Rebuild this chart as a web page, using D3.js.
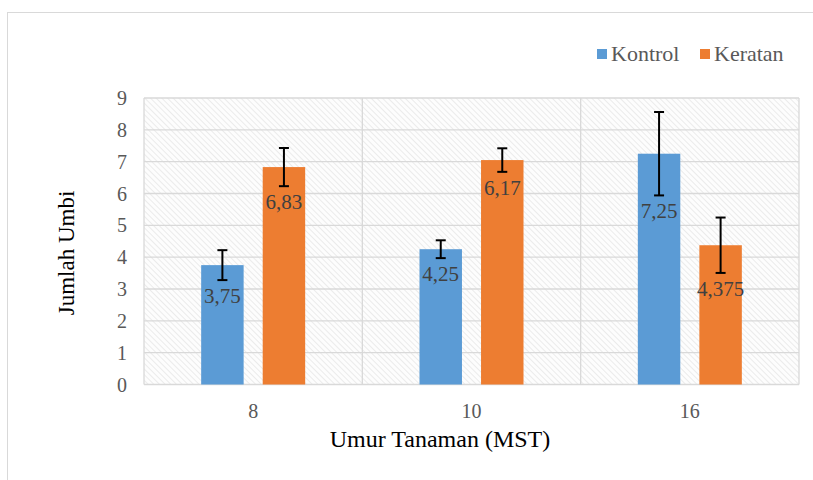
<!DOCTYPE html>
<html>
<head>
<meta charset="utf-8">
<script src="https://cdn.jsdelivr.net/npm/d3@7"></script>
<style>
  body { margin: 0; background: #fff; }
</style>
</head>
<body>
<script>
// data
var categories = ["8", "10", "16"];
var seriesNames = ["Kontrol", "Keratan"];
var kontrol = [3.75, 4.25, 7.25];
var keratan = [6.83, 7.05, 4.375];
var kontrolErr = [0.47, 0.28, 1.31];
var keratanErr = [0.6, 0.37, 0.87];
var kontrolLabels = ["3,75", "4,25", "7,25"];
var keratanLabels = ["6,83", "6,17", "4,375"];
var yTicks = [0, 1, 2, 3, 4, 5, 6, 7, 8, 9];

var colors = ["#5b9bd5", "#ed7d31"];

var svgWidth = 813;
var svgHeight = 480;

var margin = { top: 98, right: 14, bottom: 95.5, left: 144 };
var width = svgWidth - margin.left - margin.right;
var height = svgHeight - margin.top - margin.bottom;

var svg = d3.select("body")
    .append("svg")
    .attr("width", svgWidth)
    .attr("height", svgHeight)
    .attr("font-family", "'Liberation Serif', 'Times New Roman', serif");

// hatch pattern for the plot area
var defs = svg.append("defs");
var pattern = defs.append("pattern")
    .attr("id", "hatch")
    .attr("patternUnits", "userSpaceOnUse")
    .attr("width", 4)
    .attr("height", 4)
    .attr("patternTransform", "rotate(-45)");
pattern.append("rect")
    .attr("width", 4).attr("height", 4)
    .attr("fill", "#fdfdfd");
pattern.append("line")
    .attr("x1", 0).attr("y1", 0)
    .attr("x2", 0).attr("y2", 4)
    .attr("stroke", "#e6e6e6")
    .attr("stroke-width", 1.5);

// outer chart frame
svg.append("rect")
    .attr("x", 7.5)
    .attr("y", 12.5)
    .attr("width", 900)
    .attr("height", 600)
    .attr("fill", "none")
    .attr("stroke", "#d9d9d9")
    .attr("stroke-width", 1);

var chartGroup = svg.append("g")
    .attr("transform", `translate(${margin.left}, ${margin.top})`);

var x0 = d3.scaleBand()
    .domain(categories)
    .range([0, width]);

var groupWidth = 104;
var x1 = d3.scaleBand()
    .domain(seriesNames)
    .range([0, groupWidth])
    .paddingInner(0.31);

var y = d3.scaleLinear()
    .domain([0, 9])
    .range([height, 0]);

chartGroup.append("rect")
    .attr("width", width)
    .attr("height", height)
    .attr("fill", "url(#hatch)");

// horizontal gridlines
chartGroup.selectAll(".hgrid")
    .data(yTicks)
    .enter()
    .append("line")
    .attr("x1", 0)
    .attr("x2", width)
    .attr("y1", d => y(d))
    .attr("y2", d => y(d))
    .attr("stroke", "#d9d9d9")
    .attr("stroke-width", 1.3);

// vertical category separators
chartGroup.selectAll(".vgrid")
    .data(d3.range(categories.length + 1))
    .enter()
    .append("line")
    .attr("x1", d => d * x0.step())
    .attr("x2", d => d * x0.step())
    .attr("y1", 0)
    .attr("y2", height)
    .attr("stroke", "#d9d9d9")
    .attr("stroke-width", 1.3);

var rows = categories.map(function(c, i) {
    return [
        { cat: c, s: "Kontrol", v: kontrol[i], e: kontrolErr[i], label: kontrolLabels[i], color: colors[0] },
        { cat: c, s: "Keratan", v: keratan[i], e: keratanErr[i], label: keratanLabels[i], color: colors[1] }
    ];
});
var flat = [].concat.apply([], rows);

function barX(d) {
    return x0(d.cat) + (x0.bandwidth() - groupWidth) / 2 + x1(d.s);
}

chartGroup.selectAll(".bar")
    .data(flat)
    .enter()
    .append("rect")
    .attr("x", d => barX(d))
    .attr("y", d => y(d.v))
    .attr("width", x1.bandwidth())
    .attr("height", d => height - y(d.v))
    .attr("fill", d => d.color);

// error bars
var err = chartGroup.selectAll(".err")
    .data(flat)
    .enter()
    .append("g")
    .attr("stroke", "#000")
    .attr("stroke-width", 2);

err.append("line")
    .attr("x1", d => barX(d) + x1.bandwidth() / 2)
    .attr("x2", d => barX(d) + x1.bandwidth() / 2)
    .attr("y1", d => y(d.v + d.e))
    .attr("y2", d => y(d.v - d.e));
err.append("line")
    .attr("x1", d => barX(d) + x1.bandwidth() / 2 - 5)
    .attr("x2", d => barX(d) + x1.bandwidth() / 2 + 5)
    .attr("y1", d => y(d.v + d.e))
    .attr("y2", d => y(d.v + d.e));
err.append("line")
    .attr("x1", d => barX(d) + x1.bandwidth() / 2 - 5)
    .attr("x2", d => barX(d) + x1.bandwidth() / 2 + 5)
    .attr("y1", d => y(d.v - d.e))
    .attr("y2", d => y(d.v - d.e));

// data labels, just below the lower whisker
chartGroup.selectAll(".dlabel")
    .data(flat)
    .enter()
    .append("text")
    .text(d => d.label)
    .attr("x", d => barX(d) + x1.bandwidth() / 2)
    .attr("y", d => y(d.v - d.e) + 23)
    .attr("text-anchor", "middle")
    .attr("font-size", "21px")
    .attr("fill", "#404040");

// y axis tick labels
chartGroup.selectAll(".ytick")
    .data(yTicks)
    .enter()
    .append("text")
    .text(d => d)
    .attr("x", -17)
    .attr("y", d => y(d) + 7)
    .attr("text-anchor", "end")
    .attr("font-size", "20px")
    .attr("fill", "#595959");

// x axis tick labels
chartGroup.selectAll(".xtick")
    .data(categories)
    .enter()
    .append("text")
    .text(d => d)
    .attr("x", d => x0(d) + x0.bandwidth() / 2)
    .attr("y", height + 33)
    .attr("text-anchor", "middle")
    .attr("font-size", "20px")
    .attr("fill", "#595959");

// axis titles
svg.append("text")
    .text("Umur Tanaman (MST)")
    .attr("x", 440)
    .attr("y", 447)
    .attr("text-anchor", "middle")
    .attr("font-size", "24px")
    .attr("fill", "#000");

svg.append("text")
    .text("Jumlah Umbi")
    .attr("transform", "translate(74, 253) rotate(-90)")
    .attr("text-anchor", "middle")
    .attr("font-size", "23px")
    .attr("fill", "#000");

// legend
var legendX = [597, 700];
var legend = svg.selectAll(".legend")
    .data(seriesNames)
    .enter()
    .append("g")
    .attr("transform", (d, i) => `translate(${legendX[i]}, 49)`);
legend.append("rect")
    .attr("width", 10)
    .attr("height", 10)
    .attr("fill", (d, i) => colors[i]);
legend.append("text")
    .text(d => d)
    .attr("x", 14)
    .attr("y", 12)
    .attr("font-size", "22px")
    .attr("fill", "#595959");
</script>
</body>
</html>
